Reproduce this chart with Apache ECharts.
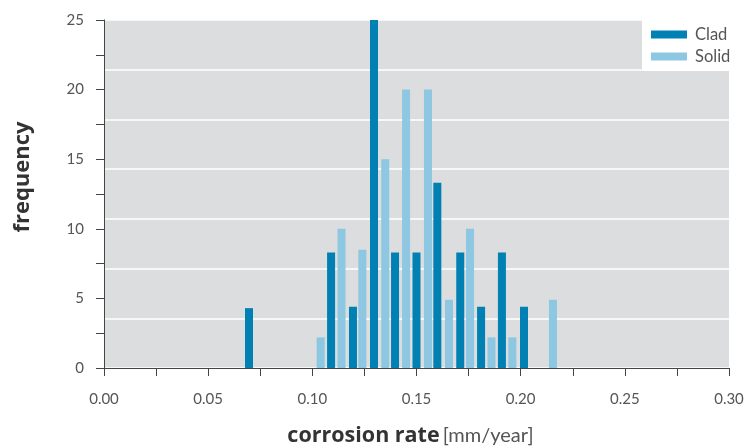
<!DOCTYPE html>
<html>
<head>
<meta charset="utf-8">
<script src="https://cdn.jsdelivr.net/npm/echarts@6/dist/echarts.min.js"></script>
<style>
  html, body { margin: 0; padding: 0; background: #fff; }
  #chart { width: 745px; height: 446px; }
</style>
</head>
<body>
<div id="chart"></div>
<script>
// bin centres (mm/year) and frequencies
var cladRates = [0.0696, 0.109, 0.1195, 0.1296, 0.1397, 0.150, 0.160, 0.171, 0.181, 0.191, 0.2016];
var cladFreq = [4.3, 8.3, 4.4, 25, 8.3, 8.3, 13.3, 8.3, 4.4, 8.3, 4.4];
var solidRates = [0.104, 0.114, 0.124, 0.135, 0.145, 0.1555, 0.1656, 0.1757, 0.186, 0.196, 0.2155];
var solidFreq = [2.2, 10, 8.5, 15, 20, 20, 4.9, 10, 2.2, 2.2, 4.9];

function pairs(xs, ys) {
	return xs.map(function(x, i) { return [x, ys[i]]; });
}

var font = 'Lato, "Noto Sans", sans-serif';
var titleFont = '"Open Sans", "Noto Sans", sans-serif';

var option = {
	animation: false,
	textStyle: { fontFamily: font },
	color: ['#0080b3', '#8ec7e1'],
	grid: {
		left: 104,
		right: 16,
		top: 20,
		bottom: 78,
		outerBoundsMode: 'none',
		containLabel: false,
		show: true,
		backgroundColor: '#dcdddf',
		borderWidth: 0
	},
	legend: {
		left: 642,
		top: 20,
		orient: 'vertical',
		backgroundColor: '#fff',
		padding: [6, 12, 6, 9],
		itemGap: 5,
		itemWidth: 36,
		itemHeight: 8,
		icon: 'rect',
		textStyle: { fontFamily: font, fontSize: 16.5, color: '#555', padding: [0, 0, 0, 3] },
		data: ['Clad', 'Solid']
	},
	xAxis: {
		type: 'value',
		min: 0,
		max: 0.3,
		interval: 0.025,
		offset: 7,
		name: '{b|corrosion rate} {n|[mm/year]}',
		nameLocation: 'middle',
		nameGap: 50,
		nameTextStyle: {
			padding: [0, 12, 0, 0],
			rich: {
				b: { fontFamily: titleFont, fontSize: 21.5, fontWeight: 'bold', color: '#333' },
				n: { fontFamily: font, fontSize: 20, color: '#555' }
			}
		},
		axisLine: { show: true, lineStyle: { color: '#444', width: 1 } },
		axisTick: { show: true, length: 8, lineStyle: { color: '#444' } },
		axisLabel: {
			fontSize: 15,
			color: '#555',
			margin: 17,
			formatter: function(v) {
				return Math.round(v / 0.025) % 2 === 0 ? v.toFixed(2) : '';
			}
		},
		splitLine: { show: false }
	},
	yAxis: [
		{
			type: 'value',
			min: 0,
			max: 25,
			interval: 2.5,
			offset: 6,
			name: 'frequency',
			nameLocation: 'middle',
			nameGap: 64,
			nameRotate: 90,
			nameTextStyle: {
				fontFamily: titleFont,
				fontSize: 22,
				fontWeight: 'bold',
				color: '#333',
				padding: [0, 0, 0, 34]
			},
			axisLine: { show: true, lineStyle: { color: '#444', width: 1 } },
			axisTick: { show: true, length: 8, lineStyle: { color: '#444' } },
			axisLabel: {
				fontSize: 15,
				color: '#555',
				margin: 14,
				formatter: function(v) {
					return Math.round(v / 2.5) % 2 === 0 ? String(v) : '';
				}
			},
			splitLine: { show: false }
		},
		{
			// only for the white bands behind the bars
			type: 'value',
			min: 0,
			max: 7,
			interval: 1,
			position: 'right',
			axisLine: { show: false },
			axisTick: { show: false },
			axisLabel: { show: false },
			splitLine: { show: true, lineStyle: { color: '#fff', width: 1.5 } }
		}
	],
	series: [
		{
			name: 'Clad',
			type: 'bar',
			barWidth: 8,
			barGap: '-100%',
			data: pairs(cladRates, cladFreq)
		},
		{
			name: 'Solid',
			type: 'bar',
			barWidth: 8,
			barGap: '-100%',
			data: pairs(solidRates, solidFreq)
		}
	]
};

var chart = echarts.init(document.getElementById('chart'));
chart.setOption(option);
</script>
</body>
</html>
